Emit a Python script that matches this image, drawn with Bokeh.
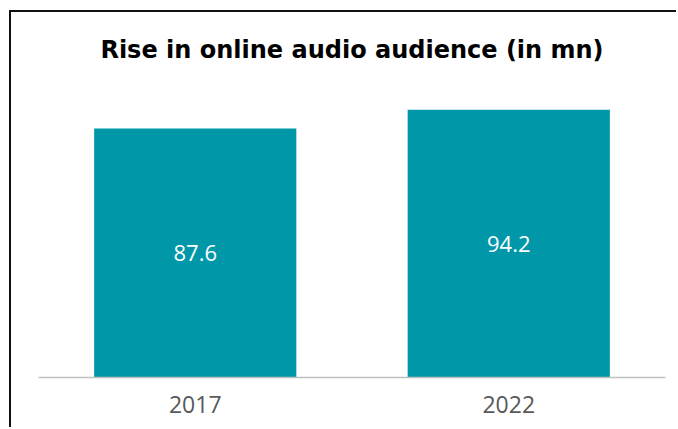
from bokeh.plotting import figure
from bokeh.models import FactorRange, Range1d, ColumnDataSource
from bokeh.core.properties import value
from bokeh.embed import file_html
from bokeh.resources import INLINE

# data
years = ["2017", "2022"]
audience = [87.6, 94.2]
value_labels = ["87.6", "94.2"]
chart_title = "Rise in online audio audience (in mn)"

BAR = "#0098A9"

src = ColumnDataSource(dict(
    x=years,
    top=audience,
    mid=[v / 2 for v in audience],
    label=value_labels,
))

p = figure(width=667, height=417,
           x_range=FactorRange(factors=years),
           y_range=Range1d(0, 104.5),
           output_backend="svg", toolbar_location=None,
           title=chart_title,
           min_border_left=27, min_border_right=13,
           min_border_top=68, min_border_bottom=52)
p.margin = (10, 0, 0, 9)
p.styles = {"border-left": "2px solid #111111", "border-top": "2px solid #111111"}

p.vbar(x="x", top="top", width=0.645, source=src, fill_color=BAR, line_color=None)
p.text(x="x", y="mid", text="label", source=src, text_color="white",
       text_align="center", text_baseline="middle",
       text_font=value("Open Sans"), text_font_size="22px")

p.title.text_font = "DejaVu Sans"
p.title.text_font_style = "bold"
p.title.text_font_size = "24px"
p.title.text_color = "#000000"
p.title.align = "center"
p.title.standoff = 33

p.yaxis.visible = False
p.xgrid.grid_line_color = None
p.ygrid.grid_line_color = None
p.outline_line_color = None

ax = p.xaxis[0]
ax.axis_line_color = "#BFBFBF"
ax.axis_line_width = 1.5
ax.major_tick_line_color = None
ax.minor_tick_line_color = None
ax.major_tick_out = 0
ax.major_label_standoff = 18
ax.major_label_text_font = "Open Sans"
ax.major_label_text_font_size = "23px"
ax.major_label_text_color = "#595959"

open("out.html", "w").write(file_html(p, INLINE))
